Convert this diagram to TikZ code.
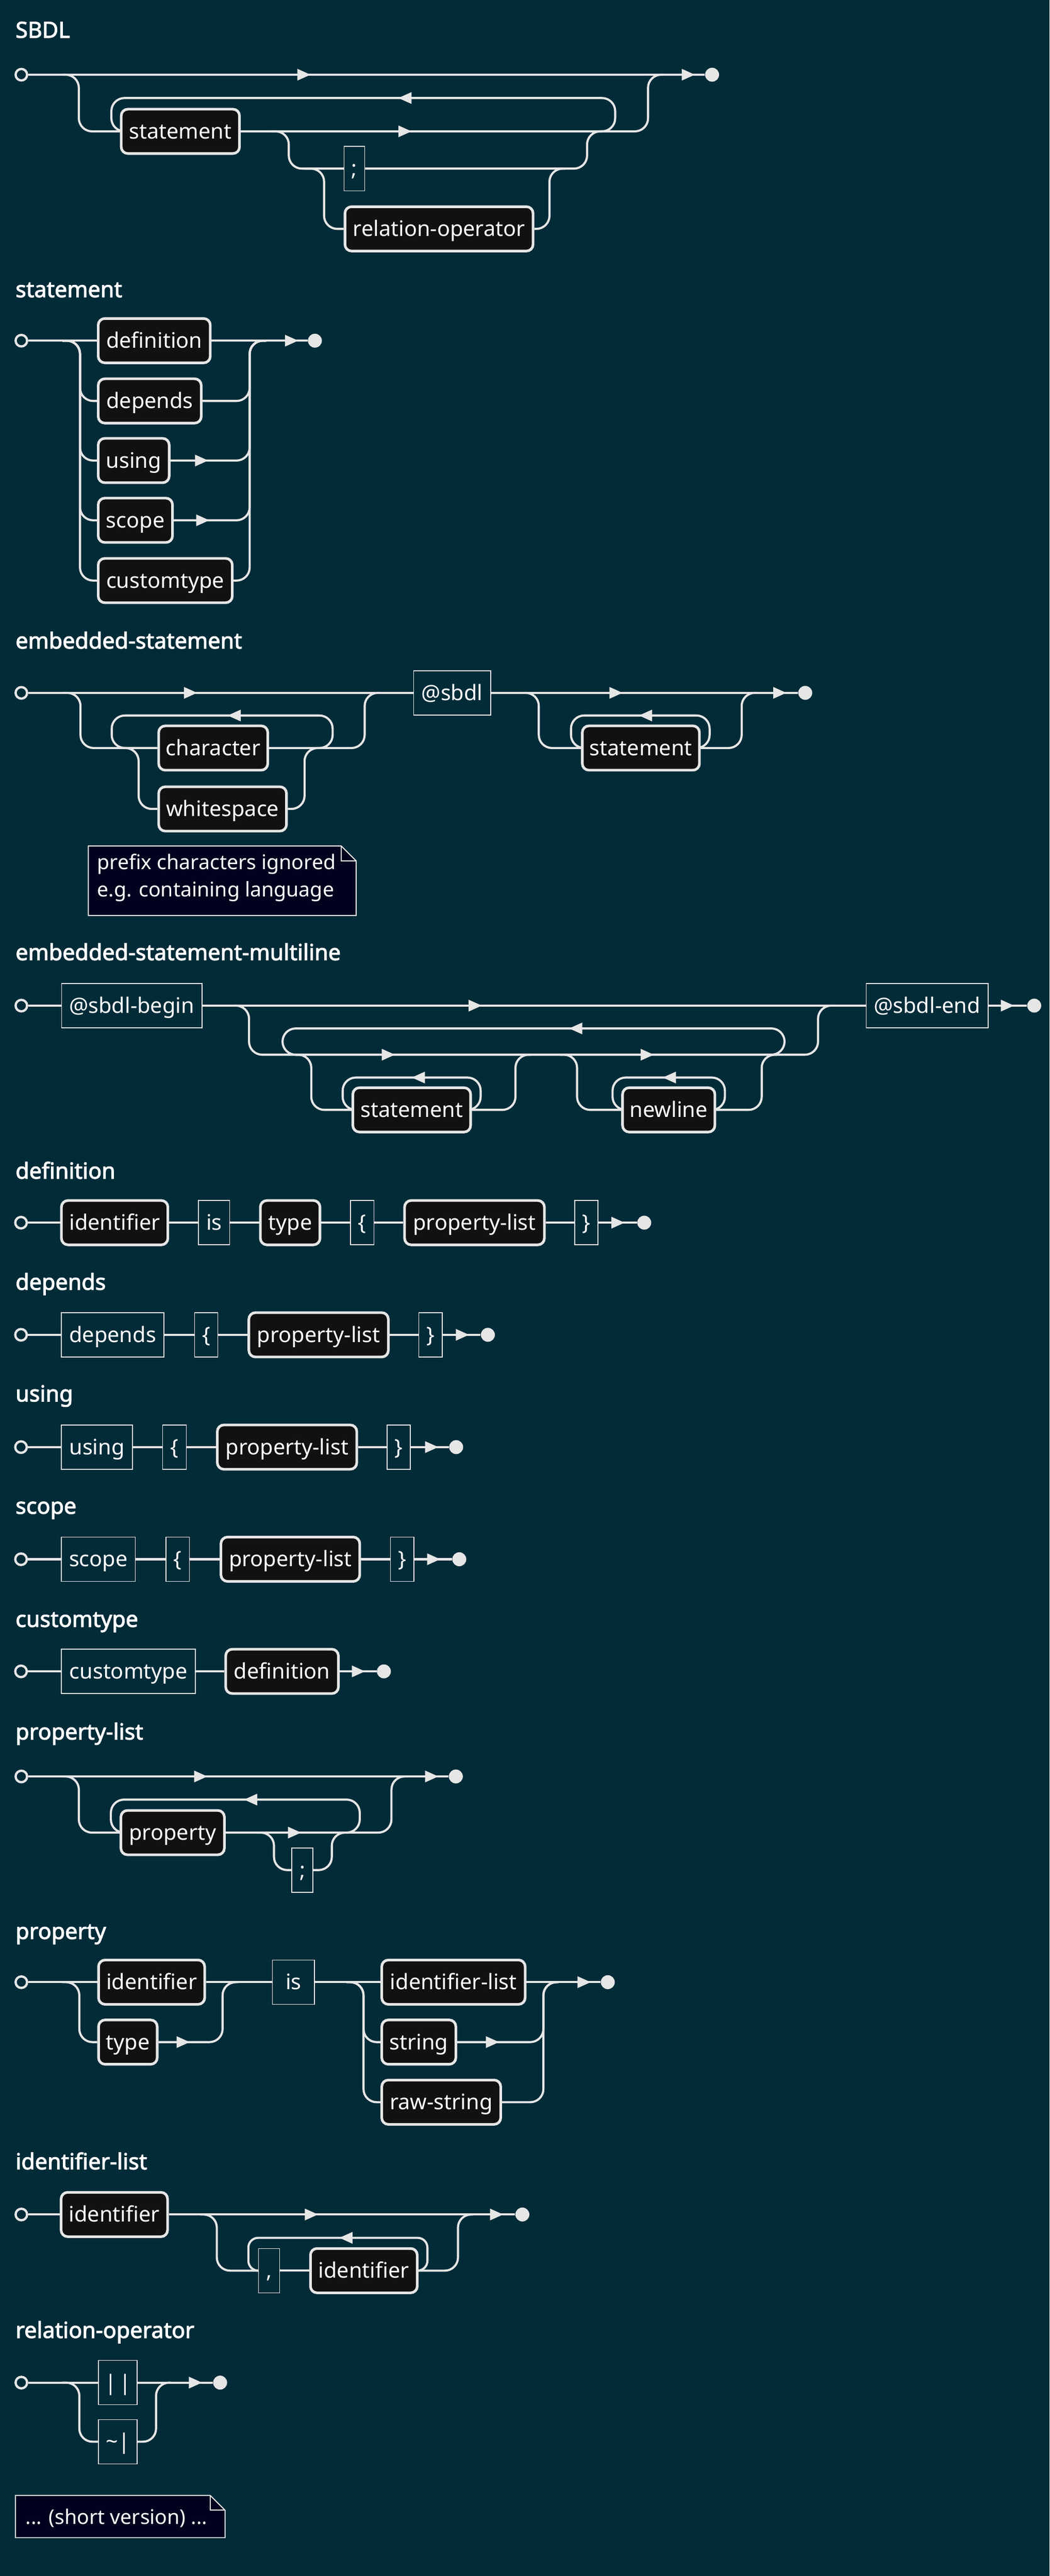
\documentclass[tikz,border=0pt]{standalone}
\usepackage{fontspec}
\setmainfont{Noto Sans}[AutoFakeBold=2.5]
\begin{document}
\definecolor{bg}{HTML}{022B38}
\definecolor{fg}{HTML}{E6E6E6}
\definecolor{ntf}{HTML}{111111}
\definecolor{notef}{HTML}{02021F}
\pgfdeclarelayer{back}\pgfsetlayers{back,main}
\tikzset{
 rail/.style={draw=fg,line width=1.3pt,rounded corners=8pt},
 box/.style={inner sep=0pt,minimum height=27pt,text height=10.5pt,text depth=1.5pt,font=\fontsize{13}{15}\selectfont,text=white},
 ntbox/.style={box,draw=fg,fill=ntf,line width=1.6pt,rounded corners=4pt},
 tmbox/.style={box,draw=fg!85,fill=bg,line width=0.5pt},
 title/.style={anchor=base west,font=\bfseries\fontsize{13.5}{15}\selectfont,text=white,inner sep=0pt},
 notebox/.style={draw=fg!75,fill=notef,line width=0.6pt},
 notetext/.style={anchor=base west,font=\fontsize{12.3}{14}\selectfont,text=white,inner sep=0pt}
}
\newcommand\nt[5]{\node[ntbox,minimum width={(#3-#2)*1pt}] (#1) at ({(#2+#3)/2},#4) {#5};}
\newcommand\tm[5]{\node[tmbox,minimum width={(#3-#2)*1pt}] (#1) at ({(#2+#3)/2},#4) {#5};}
\newcommand\rs[3]{\node[circle,draw=fg,fill=bg,line width=1.4pt,minimum size=7pt,inner sep=0pt] (#1) at (#2,#3) {};}
\newcommand\re[3]{\node[circle,fill=fg,minimum size=8.5pt,inner sep=0pt] (#1) at (#2,#3) {};}
\newcommand\ar[2]{\fill[fg] (#1-4,#2-3.6) -- (#1+4,#2) -- (#1-4,#2+3.6) -- cycle;}
\newcommand\al[2]{\fill[fg] (#1+4,#2-3.6) -- (#1-4,#2) -- (#1+4,#2+3.6) -- cycle;}
\begin{tikzpicture}[x=1pt,y=-1pt]
\useasboundingbox (0,0) rectangle (639,1569);
\begin{pgfonlayer}{back}
\fill[bg] (0,0) rectangle (639,1569);
\end{pgfonlayer}

% ---------- SBDL
\node[title] (t1) at (9.3,23) {SBDL};
\rs{s1}{13}{45.5}\re{e1}{433.5}{45.5}
\nt{a1}{73.8}{145.8}{80}{statement}
\tm{a2}{209.5}{222}{102.7}{;}
\nt{a3}{210}{324.5}{139.4}{relation-operator}
\begin{pgfonlayer}{back}
\draw[rail] (s1) -- (e1);
\draw[rail] (38,45.5) -| (48,80) -- (a1.west);
\draw[rail] (a1.west) -| (67.8,59.7) -| (374.5,80) -- (365,80);
\draw[rail] (a1.east) -| (394.5,45.5) -- (404,45.5);
\draw[rail] (165,80) -| (175.8,102.7) -- (a2.west);
\draw[rail] (a2.east) -| (357.4,80) -- (367,80);
\draw[rail] (185,102.7) -| (197.3,139.4) -- (a3.west);
\draw[rail] (a3.east) -| (334.5,102.7) -- (344,102.7);
\ar{185}{45.5}\ar{419}{45.5}\al{246.5}{59.7}\ar{246.5}{80}
\end{pgfonlayer}

% ---------- statement
\node[title] (t2) at (9.3,181) {statement};
\rs{s2}{13}{207.5}\re{e2}{191.7}{207.5}
\nt{b1}{59.8}{128}{207.5}{definition}
\nt{b2}{59.8}{122.5}{244.2}{depends}
\nt{b3}{59.8}{103}{280.5}{using}
\nt{b4}{59.8}{105}{316.9}{scope}
\nt{b5}{59.8}{141.4}{353.6}{customtype}
\begin{pgfonlayer}{back}
\draw[rail] (s2) -- (b1.west);
\draw[rail] (b1.east) -- (e2);
\foreach \n in {b2,b3,b4,b5}{
 \draw[rail] (38,207.5) -| (48.7,0|-\n.west) -- (\n.west);
 \draw[rail] (\n.east) -| (152,207.5) -- (162,207.5);
}
\ar{177.5}{207.5}\ar{122.7}{280.5}\ar{123.4}{316.9}
\end{pgfonlayer}

% ---------- embedded-statement
\node[title] (t3) at (9.3,395) {embedded-statement};
\rs{s3}{13}{422}\re{e3}{490.2}{422}
\nt{c1}{96.6}{163}{455.6}{character}
\nt{c2}{96.6}{174.4}{492.7}{whitespace}
\tm{c3}{251.8}{298.7}{422}{@sbdl}
\nt{c4}{354.5}{425.8}{455.6}{statement}
\begin{pgfonlayer}{back}
\draw[rail] (s3) -- (c3.west);
\draw[rail] (38,422) -| (49,455.6) -- (c1.west);
\draw[rail] (c1.west) -| (68,435.8) -| (202.5,455.6) -- (195,455.6);
\draw[rail] (c1.east) -| (222,422) -- (232,422);
\draw[rail] (74,455.6) -| (84.4,492.7) -- (c2.west);
\draw[rail] (c2.east) -| (185.4,455.6) -- (195,455.6);
\draw[rail] (c3.east) -- (e3);
\draw[rail] (318,422) -| (328,455.6) -- (c4.west);
\draw[rail] (c4.west) -| (347.6,435.8) -| (432,455.6) -- (c4.east);
\draw[rail] (c4.east) -| (451.5,422) -- (461,422);
\ar{116}{422}\al{142.6}{435.8}\ar{375}{422}\al{393}{435.8}\ar{474.7}{422}
\end{pgfonlayer}
\draw[notebox] (53.8,515.3) -- (207.8,515.3) -- (216.8,524.3) -- (216.8,557.6) -- (53.8,557.6) -- cycle;
\draw[fg!75,line width=0.6pt] (207.8,515.3) -- (207.8,524.3) -- (216.8,524.3);
\node[notetext] (n1) at (59,529.5) {prefix characters ignored};
\node[notetext] (n2) at (59,546.2) {e.g. containing language};

% ---------- embedded-statement-multiline
\node[title] (t4) at (9.3,584.8) {embedded-statement-multiline};
\rs{s4}{13}{612.5}\re{e4}{629.6}{612.5}
\tm{d1}{37.5}{123}{612.5}{@sbdl-begin}
\tm{d2}{527.3}{601.5}{612.5}{@sbdl-end}
\nt{d3}{214.8}{286.5}{676}{statement}
\nt{d4}{379}{435.2}{676}{newline}
\begin{pgfonlayer}{back}
\draw[rail] (s4) -- (d1.west);
\draw[rail] (d1.east) -- (d2.west);
\draw[rail] (d2.east) -- (e4);
\draw[rail] (142,612.5) -| (151.6,642.4) -| (498,612.5) -- (508,612.5);
\draw[rail] (185,642.4) -| (172,626.4) -| (477.6,642.4) -- (470,642.4);
\draw[rail] (180,642.4) -| (189.5,676) -- (d3.west);
\draw[rail] (d3.west) -| (208.6,656.3) -| (292.6,676) -- (d3.east);
\draw[rail] (d3.east) -| (313.8,642.4) -- (323,642.4);
\draw[rail] (341,642.4) -| (351.3,676) -- (d4.west);
\draw[rail] (d4.west) -| (372.9,656.3) -| (441.3,676) -- (d4.east);
\draw[rail] (d4.east) -| (463.7,642.4) -- (473,642.4);
\ar{289.3}{612.5}\al{350.5}{626.4}\ar{236.4}{642.4}\ar{394}{642.4}
\al{254.7}{656.3}\al{407.5}{656.3}\ar{613.3}{612.5}
\end{pgfonlayer}

% ---------- definition
\node[title] (t5) at (9.3,717.9) {definition};
\rs{s5}{12.8}{744.7}\re{e5}{392.2}{744.7}
\nt{f1}{37.4}{102.2}{744.7}{identifier}
\tm{f2}{120.9}{139.8}{744.7}{is}
\nt{f3}{158.5}{194.8}{744.7}{type}
\tm{f4}{213.4}{227.6}{744.7}{\{}
\nt{f5}{246.3}{331.4}{744.7}{property-list}
\tm{f6}{349.8}{364}{744.7}{\}}
\begin{pgfonlayer}{back}
\draw[rail] (s5) -- (f1) -- (f2) -- (f3) -- (f4) -- (f5) -- (f6) -- (e5);
\ar{376.2}{744.7}
\end{pgfonlayer}

% ---------- depends
\node[title] (t6) at (9.3,785.6) {depends};
\rs{s6}{12.8}{813}\re{e6}{297}{813}
\tm{g1}{37.4}{99.8}{813}{depends}
\tm{g2}{118.5}{132.6}{813}{\{}
\nt{g3}{151.5}{236.4}{813}{property-list}
\tm{g4}{255}{269.2}{813}{\}}
\begin{pgfonlayer}{back}
\draw[rail] (s6) -- (g1) -- (g2) -- (g3) -- (g4) -- (e6);
\ar{281.5}{813}
\end{pgfonlayer}

% ---------- using
\node[title] (t7) at (9.3,853.6) {using};
\rs{s7}{12.8}{881.4}\re{e7}{277.7}{881.4}
\tm{h1}{37.4}{80.6}{881.4}{using}
\tm{h2}{99}{113.4}{881.4}{\{}
\nt{h3}{132.3}{217.2}{881.4}{property-list}
\tm{h4}{235.6}{249.7}{881.4}{\}}
\begin{pgfonlayer}{back}
\draw[rail] (s7) -- (h1) -- (h2) -- (h3) -- (h4) -- (e7);
\ar{262.8}{881.4}
\end{pgfonlayer}

% ---------- scope
\node[title] (t8) at (9.3,922) {scope};
\rs{s8}{12.8}{949.7}\re{e8}{279.6}{949.7}
\tm{i1}{37.4}{82.4}{949.7}{scope}
\tm{i2}{101}{115.3}{949.7}{\{}
\nt{i3}{134.5}{219}{949.7}{property-list}
\tm{i4}{237.7}{251.9}{949.7}{\}}
\begin{pgfonlayer}{back}
\draw[rail] (s8) -- (i1) -- (i2) -- (i3) -- (i4) -- (e8);
\ar{264}{949.7}
\end{pgfonlayer}

% ---------- customtype
\node[title] (t9) at (9.3,990.9) {customtype};
\rs{s9}{12.8}{1018}\re{e9}{233.7}{1018}
\tm{j1}{37.4}{119}{1018}{customtype}
\nt{j2}{137.4}{206}{1018}{definition}
\begin{pgfonlayer}{back}
\draw[rail] (s9) -- (j1) -- (j2) -- (e9);
\ar{218.2}{1018}
\end{pgfonlayer}

% ---------- property-list
\node[title] (t10) at (9.3,1059.5) {property-list};
\rs{s10}{13}{1082}\re{e10}{277.5}{1082}
\nt{k1}{73.6}{136.6}{1116.2}{property}
\tm{k2}{177.7}{190.5}{1139}{;}
\begin{pgfonlayer}{back}
\draw[rail] (s10) -- (e10);
\draw[rail] (38,1082) -| (48,1116.2) -- (k1.west);
\draw[rail] (k1.west) -| (67.5,1096.1) -| (219,1116.2) -- (212,1116.2);
\draw[rail] (k1.east) -| (238.3,1082) -- (248,1082);
\draw[rail] (156,1116.2) -| (166.8,1139) -- (k2.west);
\draw[rail] (k2.east) -| (202,1116.2) -- (212,1116.2);
\ar{122.2}{1082}\ar{262.8}{1082}\al{152.6}{1096.1}\ar{179.3}{1116.2}
\end{pgfonlayer}

% ---------- property
\node[title] (t11) at (9.3,1181) {property};
\rs{s11}{13}{1207.3}\re{e11}{370}{1207.3}
\nt{m1}{60}{124.6}{1207.3}{identifier}
\nt{m2}{60}{95.7}{1243.8}{type}
\tm{m3}{165.8}{191.5}{1207.3}{is}
\nt{m4}{232.4}{319.7}{1207.3}{identifier-list}
\nt{m5}{232.4}{277.5}{1243.8}{string}
\nt{m6}{232.4}{304.8}{1280.4}{raw-string}
\begin{pgfonlayer}{back}
\draw[rail] (s11) -- (m1) -- (m3) -- (m4) -- (e11);
\draw[rail] (38,1207.3) -| (48.3,1243.8) -- (m2.west);
\draw[rail] (m2.east) -| (135.5,1207.3) -- (145,1207.3);
\draw[rail] (211,1207.3) -| (221.3,1243.8) -- (m5.west);
\draw[rail] (211,1207.3) -| (221.3,1280.4) -- (m6.west);
\draw[rail] (m5.east) -| (330.8,1207.3) -- (340,1207.3);
\draw[rail] (m6.east) -| (330.8,1207.3) -- (340,1207.3);
\ar{111.5}{1243.8}\ar{299.8}{1243.8}\ar{355.6}{1207.3}
\end{pgfonlayer}

% ---------- identifier-list
\node[title] (t12) at (9.3,1321.3) {identifier-list};
\rs{s12}{13}{1348.8}\re{e12}{318}{1348.8}
\nt{p1}{37.2}{102}{1348.8}{identifier}
\tm{p2}{157.4}{170.2}{1383}{,}
\nt{p3}{189}{254}{1383}{identifier}
\begin{pgfonlayer}{back}
\draw[rail] (s12) -- (p1) -- (e12);
\draw[rail] (122,1348.8) -| (132,1383) -- (p2.west);
\draw[rail] (p2) -- (p3);
\draw[rail,rounded corners=6pt] (p3.east) -| (260.2,1363) -| (151.2,1383) -- (p2.west);
\draw[rail] (p3.east) -| (278.8,1348.8) -- (288,1348.8);
\ar{189.6}{1348.8}\ar{302.3}{1348.8}\al{210.6}{1363}
\end{pgfonlayer}

% ---------- relation-operator
\node[title] (t13) at (9.3,1424) {relation-operator};
\rs{s13}{13}{1451.2}\re{e13}{134}{1451.2}
\tm{q1}{60}{83.5}{1451.2}{|\kern1.5pt|}
\tm{q2}{60}{83.5}{1487.2}{\char`\~|}
\begin{pgfonlayer}{back}
\draw[rail] (s13) -- (q1) -- (e13);
\draw[rail] (38,1451.2) -| (48.3,1487.2) -- (q2.west);
\draw[rail] (q2.east) -| (95,1451.2) -- (104,1451.2);
\ar{119}{1451.2}
\end{pgfonlayer}

% ---------- note
\draw[notebox] (9.4,1519.9) -- (128,1519.9) -- (137,1528.9) -- (137,1545.6) -- (9.4,1545.6) -- cycle;
\draw[fg!75,line width=0.6pt] (128,1519.9) -- (128,1528.9) -- (137,1528.9);
\node[notetext] (n3) at (15.4,1537.4) {... (short version) ...};
\end{tikzpicture}
\end{document}
